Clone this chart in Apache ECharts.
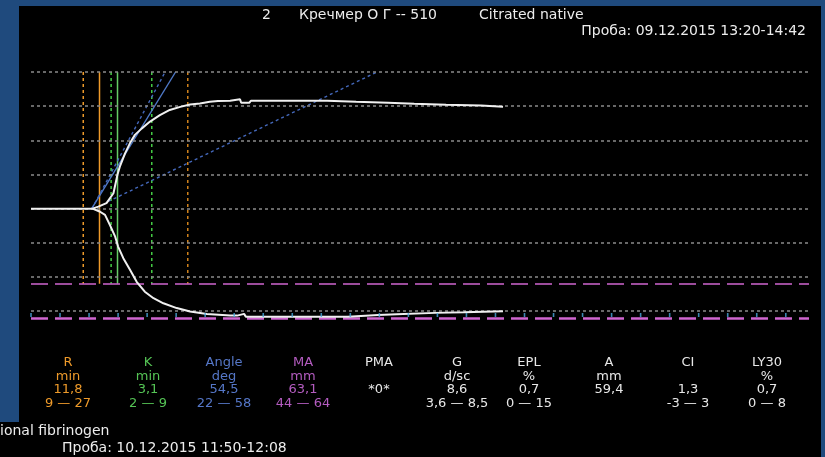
<!DOCTYPE html>
<html>
<head>
<meta charset="utf-8">
<script src="https://cdn.jsdelivr.net/npm/echarts@6/dist/echarts.min.js"></script>
<style>
  html, body { margin: 0; padding: 0; background: #000; }
  #chart { width: 825px; height: 457px; }
</style>
</head>
<body>
<div id="chart"></div>
<script>
// ---- TEG trace: [time, min ; deflection, mm] ----
const upperTrace = [
  [0, 0], [10.6, 0], [11.6, 0.6], [11.8, 1.0], [13.0, 1.6], [14.2, 4.5], [14.9, 10.0],
  [15.3, 12.3], [16.2, 16.2], [17.05, 19.2], [17.9, 21.6], [19.1, 23.5], [20.5, 25.5],
  [22.2, 27.4], [23.9, 28.9], [25.7, 29.8], [27.4, 30.5], [29.1, 30.8], [30.8, 31.3],
  [32.2, 31.5], [34.3, 31.6], [34.6, 32.0], [36.0, 32.0], [36.2, 31.0], [37.6, 31.0],
  [37.9, 31.6], [51.0, 31.6], [51.0, 31.3], [56.0, 31.3], [56.0, 31.0], [61.5, 31.0],
  [61.5, 30.7], [66.0, 30.7], [66.0, 30.4], [71.5, 30.4], [71.5, 30.2], [77.5, 30.2],
  [77.5, 29.8], [81.3, 29.8]
];
const lowerTrace = [
  [10.6, 0], [11.9, -0.9], [12.75, -1.8], [13.6, -4.8], [14.5, -8.2], [15.0, -11.1],
  [15.9, -14.5], [17.05, -17.9], [18.2, -21.4], [19.6, -24.3], [21.1, -26.2],
  [22.8, -27.7], [25.1, -29.1], [27.4, -30.1], [30.3, -30.8], [34.3, -31.3],
  [35.5, -31.3], [35.8, -30.8], [36.7, -30.8], [37.0, -31.6], [54.6, -31.6],
  [54.6, -31.1], [59.8, -31.1], [59.8, -30.9], [63.0, -30.9], [63.0, -30.5],
  [69.6, -30.5], [69.6, -30.3], [74.6, -30.3], [74.6, -30.0], [81.3, -30.0]
];

// tangent lines (angle construction)
const angleLine = [[10.45, 0], [24.9, 40]];
const steepLine = [[10.5, 0], [23.1, 40]];
const shallowLine = [[13.3, 2.1], [59.6, 40]];

// ---- parameter table ----
const paramNames  = ['R', 'K', 'Angle', 'MA', 'PMA', 'G', 'EPL', 'A', 'CI', 'LY30'];
const paramUnits  = ['min', 'min', 'deg', 'mm', '', 'd/sc', '%', 'mm', '', '%'];
const paramValues = [11.8, 3.1, 54.5, 63.1, '*0*', 8.6, 0.7, 59.4, 1.3, 0.7];
const paramRanges = [[9, 27], [2, 9], [22, 58], [44, 64], null, [3.6, 8.5], [0, 15], null, [-3, 3], [0, 8]];

// horizontal reference levels (mm) and time ticks (min)
const gridLevels = [-30, -20, -10, 0, 10, 20, 30, 40];
const tickStep = 5;
const tickLast = 130;

// ---- layout / style ----
const colColors = ['#ee9a2a', '#55c455', '#5577c8', '#b45cc0', '#e8e8e8',
                   '#e8e8e8', '#e8e8e8', '#e8e8e8', '#e8e8e8', '#e8e8e8'];
const colX = [68, 148, 224, 303, 379, 457, 529, 609, 688, 767];
const rowY = [363, 377, 390, 404];
const frameBlue = '#1f4a7d';
const fontFamily = '"DejaVu Sans", sans-serif';

const fmt = v => String(v).replace('.', ',');

const R = paramValues[0];
const K = paramValues[1];
const rRange = paramRanges[0];
const kRange = paramRanges[1];
const maRange = paramRanges[3];
const yTop = gridLevels[gridLevels.length - 1];
const yBottom = -maRange[1] / 2;
const markerBottom = -maRange[0] / 2;

const tickPoints = [];
for (let t = 0; t <= tickLast; t += tickStep) tickPoints.push([t, yBottom]);

function vline(t, color, dashed, width) {
  return {
    type: 'line', data: [[t, yTop], [t, markerBottom]], symbol: 'none', silent: true, z: 3,
    lineStyle: { color: color, width: width, type: dashed ? [3, 3] : 'solid' }
  };
}
function seg(data, color, dashed) {
  return {
    type: 'line', data: data, symbol: 'none', silent: true, z: 4,
    lineStyle: { color: color, width: 1.4, type: dashed ? [3, 3] : 'solid' }
  };
}

const series = [
  {
    type: 'line', data: [], silent: true, z: 1,
    markLine: {
      silent: true, symbol: ['none', 'none'], label: { show: false },
      lineStyle: { color: '#8a8a8a', width: 1.5, type: [3, 3] },
      data: gridLevels.map(v => ({ yAxis: v }))
    }
  },
  {
    type: 'line', data: [], silent: true, z: 2,
    markLine: {
      silent: true, symbol: ['none', 'none'], label: { show: false },
      data: [
        { yAxis: -maRange[0] / 2, lineStyle: { color: '#d066d0', width: 1.5, type: [17, 7] } },
        { yAxis: yBottom, lineStyle: { color: '#d066d0', width: 2.5, type: [17, 7] } }
      ]
    }
  },
  // time ticks sitting on the bottom line
  {
    type: 'scatter', data: tickPoints, silent: true, z: 6, clip: false,
    symbol: 'rect', symbolSize: [1.6, 4], symbolOffset: [0, -3],
    itemStyle: { color: '#4aaae0' }
  },
  vline(rRange[0], '#ee9a2a', true, 1.5),
  vline(rRange[1], '#d0821c', true, 1.5),
  vline(R, '#ee9a2a', false, 1.5),
  vline(R + kRange[0], '#44cc44', true, 1.5),
  vline(R + kRange[1], '#44cc44', true, 1.5),
  vline(R + K, '#66cc66', false, 1.5),
  seg(angleLine, '#4f79c7', false),
  seg(steepLine, '#4468bb', true),
  seg(shallowLine, '#4468bb', true),
  {
    type: 'line', data: upperTrace, symbol: 'none', silent: true, z: 5,
    lineStyle: { color: '#f0f0f0', width: 2 }
  },
  {
    type: 'line', data: lowerTrace, symbol: 'none', silent: true, z: 5,
    lineStyle: { color: '#f0f0f0', width: 2 }
  }
];

// ---- frame and text elements ----
const graphics = [
  { type: 'rect', shape: { x: 0, y: 0, width: 825, height: 6 }, style: { fill: frameBlue } },
  { type: 'rect', shape: { x: 0, y: 0, width: 19, height: 422 }, style: { fill: frameBlue } },
  { type: 'rect', shape: { x: 821, y: 0, width: 4, height: 457 }, style: { fill: frameBlue } }
];
function txt(x, y, text, color, size, align) {
  graphics.push({
    type: 'text', x: x, y: y, silent: true,
    style: { text: text, fill: color, font: size + 'px ' + fontFamily,
             textAlign: align || 'left', textVerticalAlign: 'middle' }
  });
}
txt(262, 15, '2', '#ececec', 14);
txt(299, 15, 'Кречмер О Г -- 510', '#ececec', 14);
txt(479, 15, 'Citrated native', '#ececec', 14);
txt(806, 31, 'Проба: 09.12.2015 13:20-14:42', '#ececec', 14, 'right');
txt(0, 431, 'ional fibrinogen', '#ececec', 14);
txt(62, 448, 'Проба: 10.12.2015 11:50-12:08', '#ececec', 14);

paramNames.forEach((name, i) => {
  const c = colColors[i];
  const v = paramValues[i];
  const r = paramRanges[i];
  txt(colX[i], rowY[0], name, c, 13, 'center');
  txt(colX[i], rowY[1], paramUnits[i], c, 13, 'center');
  txt(colX[i], rowY[2], typeof v === 'number' ? fmt(v.toFixed(1)) : v, c, 13, 'center');
  if (r) txt(colX[i], rowY[3], fmt(r[0]) + ' — ' + fmt(r[1]), c, 13, 'center');
});

const chart = echarts.init(document.getElementById('chart'), null, { renderer: 'canvas' });
chart.setOption({
  backgroundColor: '#000',
  animation: false,
  grid: { left: 31, right: 16, top: 72, bottom: 139 },
  xAxis: {
    type: 'value', min: 0, max: 134,
    axisLine: { show: false, onZero: false }, axisTick: { show: false },
    axisLabel: { show: false }, splitLine: { show: false }
  },
  yAxis: {
    type: 'value', min: -32, max: 40,
    axisLine: { show: false }, axisTick: { show: false },
    axisLabel: { show: false }, splitLine: { show: false }
  },
  graphic: graphics,
  series: series
});
</script>
</body>
</html>
